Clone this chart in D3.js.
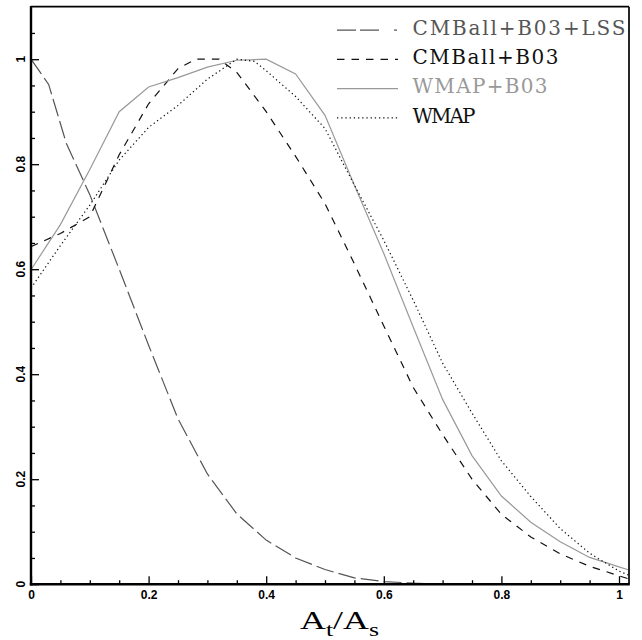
<!DOCTYPE html>
<html><head><meta charset="utf-8">
<script src="https://cdn.jsdelivr.net/npm/d3@7"></script>
<style>body{margin:0;background:#fff}svg{display:block}</style>
</head><body>
<script>
// ---- data ----
const seriesNames = ["CMBall+B03+LSS", "CMBall+B03", "WMAP+B03", "WMAP"];
const lssX = [0, 0.03, 0.06, 0.1, 0.15, 0.2, 0.25, 0.3, 0.35, 0.4, 0.45, 0.5, 0.55, 0.6, 0.65, 0.68];
const lssY = [1.0, 0.952, 0.84, 0.742, 0.60, 0.455, 0.315, 0.21, 0.134, 0.084, 0.05, 0.028, 0.012, 0.005, 0.002, 0.001];
const cmbX = [0, 0.05, 0.1, 0.15, 0.2, 0.25, 0.28, 0.3, 0.32, 0.35, 0.4, 0.45, 0.5, 0.55, 0.6, 0.65, 0.7, 0.75, 0.8, 0.85, 0.9, 0.95, 1.0, 1.017];
const cmbY = [0.643, 0.668, 0.70, 0.818, 0.915, 0.982, 1.0, 1.0, 1.0, 0.975, 0.90, 0.815, 0.725, 0.61, 0.492, 0.375, 0.285, 0.20, 0.133, 0.09, 0.058, 0.034, 0.016, 0.01];
const wbX = [0, 0.05, 0.1, 0.15, 0.2, 0.25, 0.3, 0.35, 0.4, 0.45, 0.5, 0.55, 0.6, 0.65, 0.7, 0.75, 0.8, 0.85, 0.9, 0.95, 1.0, 1.017];
const wbY = [0.599, 0.685, 0.79, 0.90, 0.947, 0.965, 0.985, 0.998, 1.0, 0.972, 0.893, 0.76, 0.63, 0.49, 0.352, 0.245, 0.168, 0.118, 0.081, 0.051, 0.033, 0.027];
const wX = [0, 0.05, 0.1, 0.15, 0.2, 0.25, 0.3, 0.35, 0.38, 0.4, 0.45, 0.5, 0.55, 0.6, 0.65, 0.7, 0.75, 0.8, 0.85, 0.9, 0.95, 1.0, 1.017];
const wY = [0.564, 0.645, 0.722, 0.808, 0.870, 0.912, 0.962, 1.0, 0.996, 0.978, 0.929, 0.868, 0.76, 0.655, 0.541, 0.421, 0.326, 0.235, 0.167, 0.106, 0.059, 0.025, 0.017];
const majorTicks = [0, 0.2, 0.4, 0.6, 0.8, 1];
const xMinorTicks = [0.05,0.1,0.15,0.25,0.3,0.35,0.45,0.5,0.55,0.65,0.7,0.75,0.85,0.9,0.95];
const yMinorTicks = [0.05,0.1,0.15,0.25,0.3,0.35,0.45,0.5,0.55,0.65,0.7,0.75,0.85,0.9,0.95,1.05];
const xLabel = ["A", "t", "/A", "s"];

// ---- styles ----
const styles = [
  {color:"#555", text:"#555", dash:"18,5", legendDash:"19,4,19,15,3,20"},
  {color:"#111", text:"#111", dash:"7.5,7", legendDash:"7.5,7"},
  {color:"#999", text:"#999", dash:null, legendDash:null},
  {color:"#111", text:"#111", dash:"1.3,2.9", legendDash:"1.3,2.9"}
];

const W = 642, H = 640;
const svg = d3.select("body").append("svg").attr("width", W).attr("height", H);
const x = d3.scaleLinear().domain([0, 1.017]).range([31, 629]);
const y = d3.scaleLinear().domain([0, 1.1]).range([584.2, 6.7]);

const series = [
  lssX.map((v,i)=>[v, lssY[i]]),
  cmbX.map((v,i)=>[v, cmbY[i]]),
  wbX.map((v,i)=>[v, wbY[i]]),
  wX.map((v,i)=>[v, wY[i]])
];

svg.append("clipPath").attr("id","clip").append("rect")
  .attr("x", x(0)).attr("y", y(1.1)).attr("width", x(1.017)-x(0)).attr("height", y(0)-y(1.1));

const line = d3.line().x(d=>x(d[0])).y(d=>y(d[1]));
const g = svg.append("g").attr("clip-path","url(#clip)");
series.forEach((s,i)=>{
  g.append("path").attr("d", line(s)).attr("fill","none")
    .attr("stroke", styles[i].color).attr("stroke-width", 1.2)
    .attr("stroke-dasharray", styles[i].dash);
});

// ---- axes ----
const xAxisMajor = d3.axisBottom(x).tickValues(majorTicks).tickSizeInner(-8).tickSizeOuter(0)
  .tickPadding(6).tickFormat(d3.format("~g"));
const xAxisMinor = d3.axisBottom(x).tickValues(xMinorTicks).tickSizeInner(-4).tickSizeOuter(0).tickFormat("");
const yAxisMajor = d3.axisLeft(y).tickValues(majorTicks).tickSizeInner(-8).tickSizeOuter(0).tickFormat("");
const yAxisMinor = d3.axisLeft(y).tickValues(yMinorTicks).tickSizeInner(-4).tickSizeOuter(0).tickFormat("");

function styleAxis(sel){
  sel.select(".domain").remove();
  sel.selectAll(".tick line").attr("stroke","#000").attr("stroke-width",1.3);
  sel.selectAll("text").attr("font-family","Liberation Sans, Arial, sans-serif")
    .attr("font-weight","bold").attr("font-size",12).attr("fill","#000");
}
svg.append("g").attr("transform",`translate(0,${y(0)})`).call(xAxisMajor).call(styleAxis);
svg.append("g").attr("transform",`translate(0,${y(0)})`).call(xAxisMinor).call(styleAxis);
svg.append("g").attr("transform",`translate(${x(0)},0)`).call(yAxisMajor).call(styleAxis);
svg.append("g").attr("transform",`translate(${x(0)},0)`).call(yAxisMinor).call(styleAxis);

// rotated y labels
svg.append("g").selectAll("text").data(majorTicks).join("text")
  .attr("transform", d=>`translate(24.5,${y(d)}) rotate(-90)`)
  .attr("text-anchor","middle")
  .attr("font-family","Liberation Sans, Arial, sans-serif").attr("font-weight","bold").attr("font-size",12)
  .text(d3.format("~g"));

// frame
svg.append("line").attr("x1",x(0)).attr("x2",x(1.017)).attr("y1",y(1.1)).attr("y2",y(1.1)).attr("stroke","#000").attr("stroke-width",1.7);
svg.append("line").attr("x1",x(1.017)).attr("x2",x(1.017)).attr("y1",y(1.1)).attr("y2",y(0)).attr("stroke","#000").attr("stroke-width",1.7);
svg.append("line").attr("x1",x(0)).attr("x2",x(0)).attr("y1",y(1.1)-0.8).attr("y2",y(0)+1.2).attr("stroke","#000").attr("stroke-width",2.4);
svg.append("line").attr("x1",x(0)-1.2).attr("x2",x(1.017)+0.8).attr("y1",y(0)).attr("y2",y(0)).attr("stroke","#000").attr("stroke-width",2.4);

// legend
const legendW = [213, 146, 135, 63];
const lg = svg.append("g");
seriesNames.forEach((n,i)=>{
  const by = 35 + i*29.2;
  lg.append("line").attr("x1",337).attr("x2",398).attr("y1",by-4.8).attr("y2",by-4.8)
    .attr("stroke", styles[i].color).attr("stroke-width",1.2).attr("stroke-dasharray", styles[i].legendDash);
  lg.append("text").attr("x",412.5).attr("y",by).attr("font-family","DejaVu Serif, serif")
    .attr("font-size",20).attr("fill",styles[i].text)
    .attr("textLength",legendW[i]).attr("lengthAdjust","spacing").text(n);
});

// x label
const xl = svg.append("text").attr("x",300).attr("y",629).attr("font-family","Liberation Serif, serif")
  .attr("font-size",25).attr("fill","#000").attr("textLength",79).attr("lengthAdjust","spacingAndGlyphs");
xl.append("tspan").text(xLabel[0]);
xl.append("tspan").attr("dy",7).attr("font-size",18).text(xLabel[1]);
xl.append("tspan").attr("dy",-7).text(xLabel[2]);
xl.append("tspan").attr("dy",7).attr("font-size",18).text(xLabel[3]);
</script>
</body></html>
